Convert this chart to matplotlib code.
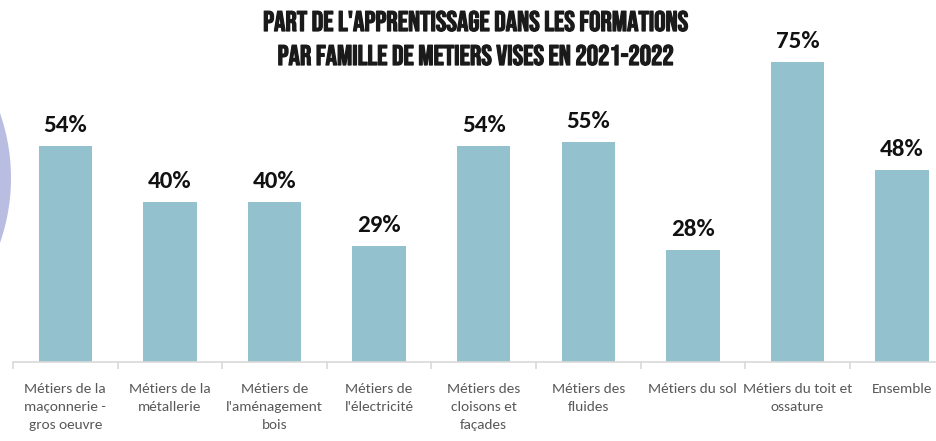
import matplotlib
matplotlib.use("Agg")
import matplotlib.pyplot as plt
import matplotlib.patheffects as pe
from matplotlib.patches import Ellipse
import numpy as np

categories = [
    "Métiers de la\nmaçonnerie -\ngros oeuvre",
    "Métiers de la\nmétallerie",
    "Métiers de\nl'aménagement\nbois",
    "Métiers de\nl'électricité",
    "Métiers des\ncloisons et\nfaçades",
    "Métiers des\nfluides",
    "Métiers du sol",
    "Métiers du toit et\nossature",
    "Ensemble",
]
values = [54, 40, 40, 29, 54, 55, 28, 75, 48]
value_labels = ["54%", "40%", "40%", "29%", "54%", "55%", "28%", "75%", "48%"]
title_lines = ["PART DE L'APPRENTISSAGE DANS LES FORMATIONS",
               "PAR FAMILLE DE METIERS VISES EN 2021-2022"]

BODY = ["Carlito", "DejaVu Sans"]
TITLE = ["Bebas Neue", "DejaVu Sans"]

W, H = 937, 441
fig = plt.figure(figsize=(W / 100, H / 100), dpi=100)
fig.patch.set_facecolor("white")

# decorative lavender disc peeking in from the left edge
r = 197
disc = Ellipse((-186 / W, 1 - 178 / H), 2 * r / W, 2 * r / H,
               transform=fig.transFigure, facecolor="#b9bde1",
               edgecolor="none", zorder=0)
fig.patches.append(disc)

left_px, base_px, slot_px = 13, 362, 104.6
ax = fig.add_axes([left_px / W, 1 - base_px / H, 9 * slot_px / W, 320 / H])
ax.set_facecolor("none")

x = np.arange(len(categories))
ax.bar(x, values, width=0.51, color="#93c1cd", zorder=2)
ax.set_xlim(-0.5, len(categories) - 0.5)
ax.set_ylim(0, 80)

for xi, v, lab in zip(x, values, value_labels):
    ax.annotate(lab, (xi, v), xytext=(0, 10), textcoords="offset points",
                ha="center", va="baseline", fontsize=18, fontweight="bold",
                color="#111111", family=BODY)

for s in ["top", "right", "left"]:
    ax.spines[s].set_visible(False)
ax.spines["bottom"].set_color("#d9d9d9")
ax.spines["bottom"].set_linewidth(1.2)
ax.set_yticks([])

ax.set_xticks(np.arange(-0.5, len(categories), 1.0), minor=False)
ax.set_xticklabels([])
ax.tick_params(axis="x", which="major", length=5, color="#d9d9d9", width=1.2)
ax.set_xticks(x, minor=True)
ax.set_xticklabels(categories, minor=True, fontsize=11, color="#595959",
                   family=BODY, linespacing=1.62)
ax.tick_params(axis="x", which="minor", length=0, pad=15)

for i, line in enumerate(title_lines):
    fig.text(475 / W, 1 - (21 + 34 * i) / H, line, ha="center", va="center",
             fontsize=20.4, color="#1a1a1a", family=TITLE,
             path_effects=[pe.withStroke(linewidth=0.9, foreground="#1a1a1a")])

fig.savefig("out.png", dpi=100, facecolor="white")
